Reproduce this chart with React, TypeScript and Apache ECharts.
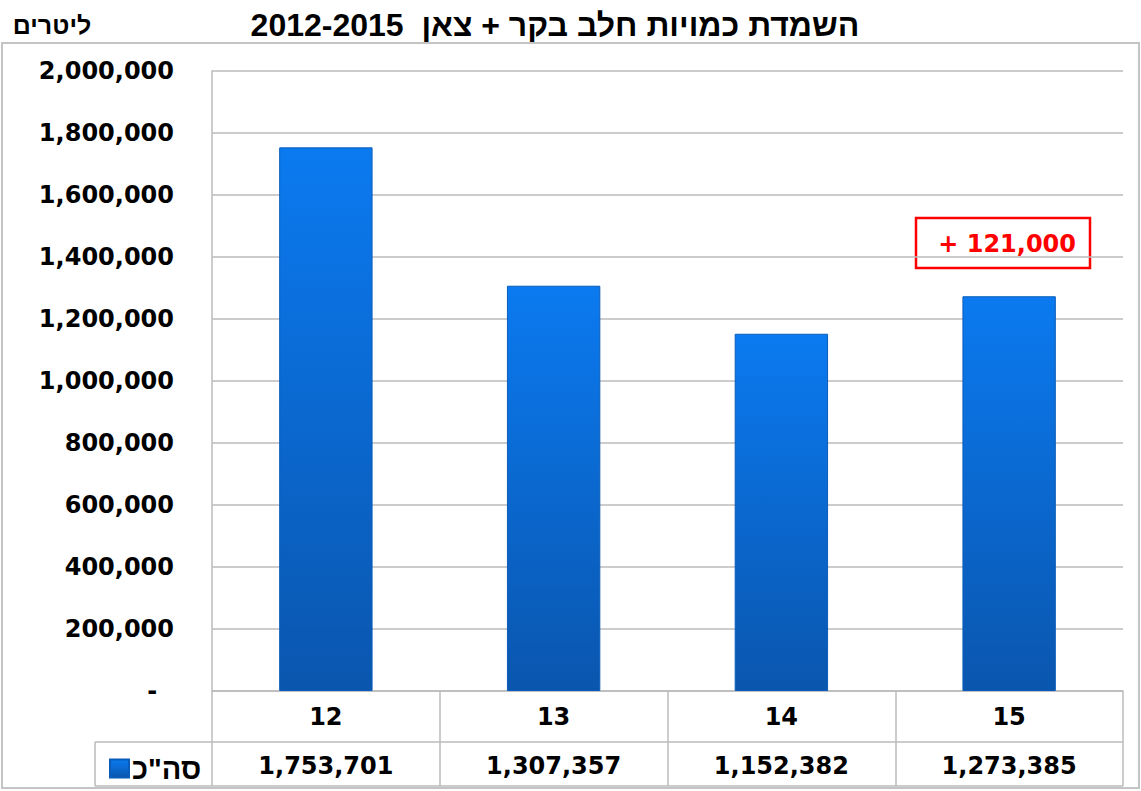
import React, { useEffect, useRef } from "react";
import * as echarts from "echarts";

const categories = ["12", "13", "14", "15"];
const totals = [1753701, 1307357, 1152382, 1273385];
const seriesName = 'סה"כ';
const titleText = "השמדת כמויות חלב בקר + צאן\u00A0 2012-2015";
const unitText = "ליטרים";
const annotationText = "+ 121,000";
const yMin = 0;
const yMax = 2000000;
const yInterval = 200000;

const fmt = (v: number) => v.toLocaleString("en-US");
const GRID = "#BBBBBB";
const NUM_FONT = "DejaVu Sans";

export default function App() {
  const ref = useRef<HTMLDivElement>(null);
  useEffect(() => {
    if (!ref.current) return;
    const chart = echarts.init(ref.current, null, { renderer: "svg" });
    const barGradient = new echarts.graphic.LinearGradient(0, 0, 0, 1, [
      { offset: 0, color: "#0B7AF0" },
      { offset: 1, color: "#0A56AE" },
    ]);
    chart.setOption({
      animation: false,
      backgroundColor: "#ffffff",
      grid: { left: 212, right: 18, top: 71, bottom: 100, containLabel: false },
      legend: {
        left: 104,
        top: 749,
        icon: "rect",
        itemWidth: 19,
        itemHeight: 18,
        itemGap: 8,
        data: [seriesName],
        textStyle: { fontFamily: "Liberation Sans", fontWeight: "bold", fontSize: 29, color: "#000", padding: [0, 0, 0, -2] },
      },
      xAxis: [
        {
          type: "category",
          data: categories,
          position: "bottom",
          axisLine: { show: true, lineStyle: { color: GRID, width: 1.5 } },
          axisTick: { show: true, length: 95, interval: 0, lineStyle: { color: GRID, width: 1.5 } },
          axisLabel: { interval: 0, margin: 14, fontFamily: NUM_FONT, fontWeight: "bold", fontSize: 24, color: "#000" },
        },
        {
          type: "category",
          data: totals.map(fmt),
          position: "bottom",
          offset: 49,
          axisLine: { show: false },
          axisTick: { show: false },
          axisLabel: { interval: 0, margin: 14, fontFamily: NUM_FONT, fontWeight: "bold", fontSize: 24, color: "#000" },
        },
      ],
      yAxis: {
        type: "value",
        min: yMin,
        max: yMax,
        interval: yInterval,
        axisLine: { show: true, lineStyle: { color: GRID, width: 1.5 } },
        axisTick: { show: false },
        splitLine: { show: true, lineStyle: { color: GRID, width: 1.5 } },
        axisLabel: {
          margin: 38,
          fontFamily: NUM_FONT,
          fontWeight: "bold",
          fontSize: 24,
          color: "#000",
          formatter: (v: number) => (v === 0 ? "-\u00A0\u00A0" : fmt(v)),
        },
      },
      series: [
        {
          name: seriesName,
          type: "bar",
          xAxisIndex: 0,
          data: totals,
          barWidth: "41%",
          itemStyle: { color: barGradient, borderColor: "#0A5CBA", borderWidth: 1 },
        },
      ],
      graphic: [
        {
          type: "rect",
          z: -10,
          shape: { x: 2, y: 43, width: 1137, height: 745 },
          style: { fill: "none", stroke: "#C4C4C4", lineWidth: 2 },
        },
        {
          type: "text",
          x: 555,
          y: 25,
          style: {
            text: titleText,
            fontFamily: "Liberation Sans",
            fontWeight: "bold",
            fontSize: 32,
            fill: "#000",
            textAlign: "center",
            textVerticalAlign: "middle",
          },
        },
        {
          type: "text",
          x: 52,
          y: 25,
          style: {
            text: unitText,
            fontFamily: "Liberation Sans",
            fontWeight: "bold",
            fontSize: 25,
            fill: "#000",
            textAlign: "center",
            textVerticalAlign: "middle",
          },
        },
        { type: "line", shape: { x1: 95, y1: 742, x2: 1123, y2: 742 }, style: { stroke: GRID, lineWidth: 1.5 } },
        { type: "line", shape: { x1: 95, y1: 786, x2: 1123, y2: 786 }, style: { stroke: GRID, lineWidth: 1.5 } },
        { type: "line", shape: { x1: 95, y1: 742, x2: 95, y2: 786 }, style: { stroke: GRID, lineWidth: 1.5 } },
        {
          type: "rect",
          shape: { x: 916, y: 218, width: 174, height: 50 },
          style: { fill: "#ffffff", stroke: "#FF0000", lineWidth: 2.5 },
        },
        {
          type: "text",
          x: 1076,
          y: 244,
          style: {
            text: annotationText,
            fontFamily: NUM_FONT,
            fontWeight: "bold",
            fontSize: 24,
            fill: "#FF0000",
            textAlign: "right",
            textVerticalAlign: "middle",
          },
        },
      ],
    });
    return () => chart.dispose();
  }, []);
  return (
    <div
      ref={ref}
      style={{ position: "fixed", left: 0, top: 0, width: 1141, height: 791, background: "#fff" }}
    />
  );
}
